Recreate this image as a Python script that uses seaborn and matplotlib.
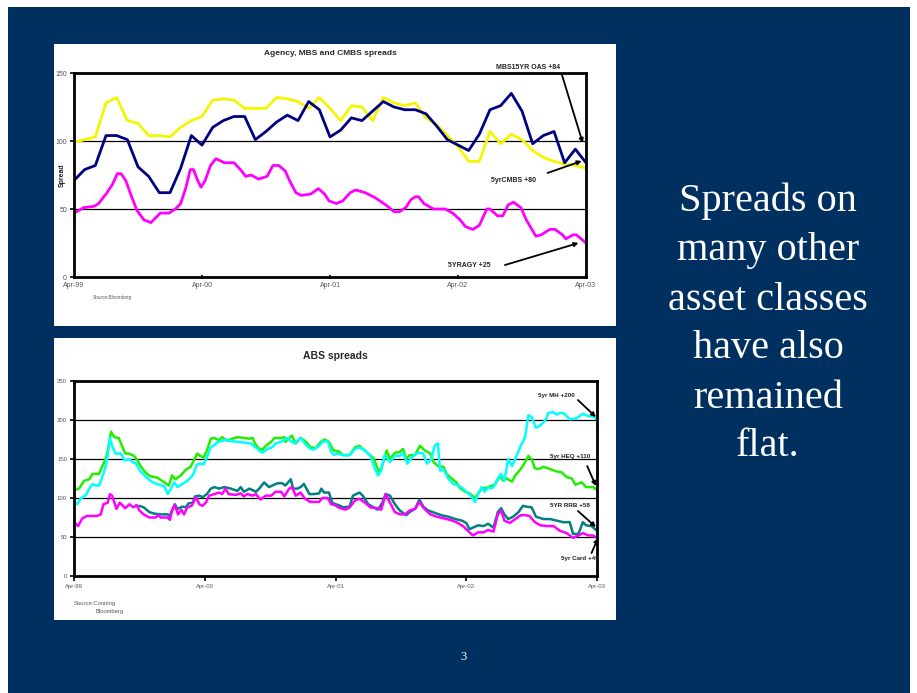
import matplotlib
matplotlib.use("Agg")
import matplotlib.pyplot as plt
from matplotlib.patches import Rectangle
import seaborn as sns
import pandas as pd

# ---------------- data ----------------
tick_months = [0, 12, 24, 36, 48]
tick_labels = ["Apr-99", "Apr-00", "Apr-01", "Apr-02", "Apr-03"]

# Agency / MBS / CMBS (monthly, months since Apr-99)
mbs_months = list(range(49))
mbs15yr_oas = [71, 79, 82, 104, 104, 101, 81, 74, 62, 62, 80, 104, 97, 110, 115, 118, 118,
               101, 107, 114, 119, 115, 129, 123, 103, 108, 117, 115, 122, 129, 125, 123, 123,
               120, 111, 101, 97, 93, 105, 123, 126, 135, 122, 98, 104, 107, 84, 94, 84]
cmbs_5yr = [99, 101, 103, 128, 132, 115, 113, 104, 104, 103, 110, 115, 118, 130, 131, 130, 124,
            124, 124, 132, 131, 129, 124, 132, 124, 115, 126, 125, 115, 132, 128, 126, 128,
            117, 112, 104, 96, 85, 85, 107, 98, 105, 101, 93, 88, 85, 83, 82, 80]

agy_months = [0, 0.9, 1.9, 2.3, 3.0, 3.6, 4.06, 4.4, 4.85, 5.4, 5.9, 6.56, 7.2, 8.1, 8.9, 9.5,
              10, 10.5, 10.9, 11.2, 11.6, 11.9, 12.3, 12.8, 13.3, 14.1, 15, 15.6, 16.1, 16.6,
              17.3, 18.1, 18.65, 19.2, 19.8, 20.2, 20.8, 21.3, 22.2, 22.9, 23.5, 23.9, 24.6,
              25.2, 25.9, 26.4, 27.3, 28.3, 29.4, 30, 30.5, 31.1, 31.6, 32, 32.3, 32.8, 33.7,
              34.5, 34.8, 35.5, 36.2, 36.7, 37.4, 38, 38.7, 39, 39.7, 40.2, 40.7, 41.2, 41.9,
              42.4, 43.3, 43.8, 44.6, 45.1, 45.8, 46.1, 46.8, 47.1, 48]
agy_5yr = [47, 51, 52, 54, 61, 68, 76, 76, 71, 59, 49, 42, 40, 47, 47, 50,
           54, 66, 79, 79, 71, 66, 71, 82, 87, 84, 84, 79, 74, 75,
           72, 74, 82, 82, 78, 71, 62, 60, 61, 65, 61, 56, 54,
           56, 62, 64, 62, 58, 52, 48, 48, 51, 57, 59, 59, 54, 50,
           50, 50, 47, 42, 37, 35, 38, 50, 50, 45, 45, 53, 55, 51,
           42, 30, 31, 35, 35, 31, 28, 31, 31, 25]

# ABS spreads
heq_months = [0, 0.46, 0.92, 1.4, 1.7, 2.3, 2.6, 2.9, 3.1, 3.4, 3.7, 4.1, 4.4, 4.7, 5.05, 5.5,
              5.8, 6.1, 6.6, 7.0, 7.65, 8.3, 8.7, 9.0, 9.3, 9.8, 10.25, 10.7, 11, 11.3, 11.6,
              11.9, 12.2, 12.55, 12.9, 13.3, 13.6, 14.1, 14.5, 15, 15.6, 16.1, 16.4, 16.6, 17,
              17.3, 17.6, 18.1, 18.4, 19, 19.3, 19.4, 19.7, 20, 20.35, 20.8, 21.3, 21.7, 22.2,
              22.65, 23, 23.4, 23.8, 24.25, 24.7, 25.3, 25.8, 26.2, 26.5, 27, 27.5, 27.8, 28,
              28.2, 28.7, 29, 29.45, 29.9, 30.2, 30.5, 30.8, 31.3, 31.75, 32.2, 32.7, 33, 33.4,
              33.9, 34.2, 34.65, 35.1, 35.4, 35.9, 36.3, 36.8, 37.4, 38, 38.6, 39.1, 39.4,
              39.7, 40.2, 40.5, 41, 41.4, 41.7, 42, 42.3, 42.6, 43.1, 43.7, 44.3, 44.75, 45.2,
              45.7, 46, 46.6, 47.0, 47.65, 48]
heq_5yr = [110, 112, 122, 124, 131, 131, 141, 150, 161, 185, 178, 177, 167, 157, 157, 154,
           149, 141, 132, 128, 126, 120, 116, 129, 124, 129, 136, 140, 148, 157, 154,
           152, 161, 176, 177, 174, 178, 173, 176, 178, 177, 176, 177, 170, 163,
           162, 167, 172, 177, 177, 178, 172, 176, 180, 170, 177, 172, 165, 164,
           172, 175, 172, 161, 160, 155, 155, 165, 167, 163, 157, 151, 140, 133,
           138, 161, 150, 158, 159, 163, 150, 155, 155, 167, 161, 157, 146, 141,
           140, 131, 125, 120, 113, 108, 106, 100, 112, 114, 117, 128, 122,
           125, 121, 129, 137, 146, 154, 150, 138, 137, 140, 137, 134, 133, 127,
           125, 117, 120, 114, 114, 110]

mh_months = [0, 0.3, 0.6, 1.1, 1.4, 1.7, 2, 2.3, 2.6, 2.9, 3.1, 3.3, 3.5, 3.8, 4.3, 4.65, 5.05,
             5.4, 5.7, 6.1, 6.6, 7.2, 7.8, 8.3, 8.6, 8.9, 9.2, 9.5, 9.95, 10.4, 10.9, 11.3,
             11.6, 11.9, 12.2, 12.55, 12.9, 13.2, 13.6, 13.9, 14.4, 15, 15.6, 16.2, 16.5, 17,
             17.3, 17.75, 18.2, 18.5, 19, 19.3, 19.6, 19.9, 20.2, 20.5, 20.8, 21.3, 21.7, 22,
             22.5, 22.8, 23.3, 23.6, 23.9, 24.1, 24.7, 25.3, 25.8, 26.2, 26.7, 27.2, 27.6,
             27.9, 28.2, 28.5, 29, 29.45, 29.9, 30.2, 30.6, 31, 31.4, 31.75, 32.05, 32.4, 32.8,
             33.1, 33.4, 33.6, 33.9, 34.35, 34.8, 35.3, 35.7, 36.2, 36.5, 36.8, 37.1, 37.4,
             37.7, 38, 38.3, 38.6, 38.9, 39.2, 39.5, 39.85, 40.2, 40.5, 41, 41.4, 41.7, 42,
             42.4, 42.8, 43.1, 43.4, 43.5, 44, 44.3, 44.6, 44.9, 45.5, 46.1, 46.7, 47.2, 47.8,
             48]
mh_5yr = [94, 92, 99, 104, 112, 118, 116, 116, 127, 140, 155, 177, 167, 157, 157, 148, 150,
          146, 144, 134, 127, 120, 117, 115, 105, 112, 120, 114, 118, 122, 129, 143,
          144, 143, 152, 165, 168, 172, 173, 175, 173, 172, 171, 170, 167, 161,
          158, 163, 165, 170, 172, 174, 177, 173, 170, 173, 177, 168, 163, 162,
          167, 172, 173, 159, 155, 157, 155, 155, 163, 165, 161, 154, 138,
          129, 135, 155, 146, 154, 154, 158, 144, 152, 157, 158, 157, 144, 150,
          167, 170, 135, 137, 125, 118, 116, 112, 106, 101, 95, 105, 114,
          108, 114, 112, 116, 125, 131, 122, 150, 141, 150, 167, 178, 206, 204,
          190, 193, 197, 203, 209, 210, 207, 209, 209, 201, 202, 208, 205, 204,
          200]

rrb_months = [6.0, 6.4, 6.9, 7.35, 7.96, 8.6, 8.8, 9.0, 9.25, 9.5, 9.95, 10.25, 10.5, 10.9,
              11.1, 11.5, 11.8, 12.2, 12.55, 12.9, 13.3, 13.8, 14.4, 15, 15.3, 15.6, 16.1,
              16.7, 17, 17.45, 17.9, 18.2, 18.7, 19.1, 19.4, 19.9, 20.1, 20.5, 20.8, 21.1,
              21.6, 22.0, 22.5, 22.7, 22.95, 23.4, 23.7, 24.0, 24.25, 24.7, 25.3, 25.6, 26.2,
              26.5, 27, 27.5, 27.9, 28.3, 28.6, 29, 29.45, 29.9, 30.5, 30.8, 31.3, 31.7,
              32.05, 32.5, 33.1, 33.7, 34.35, 35, 35.6, 36.0, 36.3, 36.6, 37.1, 37.6, 38,
              38.5, 38.9, 39.2, 39.5, 39.85, 40.3, 40.8, 41.2, 41.5, 42, 42.4, 43.1, 43.7,
              44.3, 44.9, 45.5, 45.8, 46.3, 46.7, 47, 47.5, 48]
rrb_5yr = [90, 88, 82, 80, 79, 79, 77, 84, 92, 86, 89, 88, 93, 94,
           102, 103, 101, 105, 112, 114, 112, 114, 112, 109, 114, 108, 112,
           108, 112, 120, 114, 116, 119, 119, 116, 124, 112, 112, 114, 118,
           105, 105, 106, 112, 107, 107, 94, 92, 91, 88, 89, 103, 107,
           103, 92, 88, 85, 94, 105, 103, 92, 84, 78, 82, 86, 98,
           89, 84, 81, 78, 76, 73, 71, 68, 60, 62, 65, 64, 67,
           62, 82, 87, 79, 73, 76, 82, 90, 89, 88, 76, 73, 73,
           71, 69, 69, 54, 54, 69, 65, 64, 58]

card_months = [0, 0.37, 0.77, 1.2, 2.1, 2.45, 2.7, 3.1, 3.3, 3.5, 3.9, 4.2, 4.7, 5.1, 5.45,
               5.75, 6.0, 6.4, 6.9, 7.5, 7.7, 7.96, 8.6, 8.8, 9.0, 9.25, 9.55, 9.85, 10.1,
               10.4, 10.8, 11.2, 11.5, 11.8, 12.1, 12.4, 12.9, 13.3, 13.6, 13.9, 14.2, 14.85,
               15.3, 15.6, 15.9, 16.4, 16.7, 17.1, 17.6, 18.1, 18.5, 19, 19.3, 19.75, 20,
               20.35, 20.8, 21.2, 21.7, 22.5, 22.8, 23.3, 23.6, 23.95, 24.25, 24.9, 25.3,
               25.8, 26.2, 26.7, 27.2, 27.8, 28.2, 28.6, 29, 29.45, 29.9, 30.4, 30.8, 31.3,
               31.7, 32.1, 32.7, 33.3, 33.9, 34.5, 35.1, 35.7, 36.3, 36.6, 37.1, 37.6, 38,
               38.5, 38.9, 39.2, 39.5, 40, 40.5, 41, 41.4, 41.8, 42.3, 42.8, 43.4, 44, 44.6,
               45.2, 45.8, 46.3, 46.7, 47.2, 47.6, 48]
card_5yr = [69, 64, 74, 77, 77, 79, 92, 94, 105, 103, 86, 94, 87, 92, 88,
            91, 84, 79, 75, 75, 78, 75, 75, 72, 84, 91, 79, 85, 79,
            88, 90, 101, 92, 90, 94, 103, 105, 107, 105, 112, 105, 104,
            106, 102, 105, 103, 105, 98, 103, 103, 108, 108, 102, 112, 114,
            103, 107, 99, 95, 95, 100, 100, 92, 91, 88, 85, 88,
            97, 99, 94, 88, 87, 85, 105, 94, 82, 79, 79, 84, 86,
            95, 87, 79, 76, 74, 72, 69, 64, 56, 52, 56, 56, 59,
            57, 79, 84, 71, 68, 73, 78, 78, 77, 69, 65, 64, 64, 58,
            55, 49, 52, 55, 52, 52, 49]

# ---------------- layout ----------------
W, H = 917, 693
BG = "#00305f"
sns.set_theme(style="white")
plt.rcParams["font.family"] = ["Liberation Sans", "DejaVu Sans"]

fig = plt.figure(figsize=(W / 100, H / 100), dpi=100)
fig.patch.set_facecolor("white")


def px_rect(x0, y0, x1, y1, color, z):
    fig.patches.append(Rectangle((x0 / W, 1 - y1 / H), (x1 - x0) / W, (y1 - y0) / H,
                                 transform=fig.transFigure, facecolor=color,
                                 edgecolor="none", zorder=z))


def px_axes(x0, y0, x1, y1):
    ax = fig.add_axes([x0 / W, 1 - y1 / H, (x1 - x0) / W, (y1 - y0) / H])
    ax.set_zorder(2)
    return ax


px_rect(8, 7, 910, 693, BG, -3)
px_rect(54, 44, 616, 326, "white", -2)
px_rect(54, 338, 616, 620, "white", -2)

TICK_GREY = "#555555"


def style_axes(ax, ymax, ystep, grid_vals, tick_fs, xdir, ydir):
    ax.set_facecolor("none")
    ax.set_xlim(0, 48)
    ax.set_ylim(0, ymax)
    ax.set_xticks(tick_months)
    ax.set_xticklabels(tick_labels)
    ax.set_yticks(range(0, ymax + 1, ystep))
    for v in grid_vals:
        ax.axhline(v, color="black", lw=0.9, zorder=1)
    for s in ax.spines.values():
        s.set_visible(True)
        s.set_color("black")
        s.set_linewidth(2.0)
        s.set_zorder(5)
    ax.tick_params(axis="x", direction=xdir, length=3.5, width=1.2, color="black",
                   labelsize=tick_fs, labelcolor=TICK_GREY, pad=2, bottom=True)
    ax.tick_params(axis="y", direction=ydir, length=3, width=1.2, color="black",
                   labelsize=tick_fs, labelcolor=TICK_GREY, pad=2, left=True)
    ax.set_xlabel("")
    ax.set_ylabel("")


def note(ax, text, xy, xytext, arrow_from, fs):
    ax.annotate("", xy=xy, xytext=arrow_from, xycoords="data",
                arrowprops=dict(arrowstyle="-|>", color="black", lw=1.3,
                                mutation_scale=6, shrinkA=0, shrinkB=0),
                annotation_clip=False, zorder=6)
    ax.text(xytext[0], xytext[1], text, ha="center", va="center", fontsize=fs,
            fontweight="bold", color="#222222", clip_on=False, zorder=6)


# ---------------- top chart ----------------
ax1 = px_axes(74, 73, 586, 277)
agency = pd.DataFrame({"month": mbs_months, "MBS15YR OAS": mbs15yr_oas, "5yrCMBS": cmbs_5yr})
agy = pd.DataFrame({"month": agy_months, "5YRAGY": agy_5yr})
sns.lineplot(data=agy, x="month", y="5YRAGY", ax=ax1, color="#ff00ff", lw=2.0,
             estimator=None, sort=False, zorder=3)
sns.lineplot(data=agency, x="month", y="5yrCMBS", ax=ax1, color="#f5f500", lw=2.0,
             estimator=None, sort=False, zorder=3)
sns.lineplot(data=agency, x="month", y="MBS15YR OAS", ax=ax1, color="#000080", lw=2.0,
             estimator=None, sort=False, zorder=4)
style_axes(ax1, 150, 50, [50, 100], 5, "inout", "out")
fig.text(62 / W, 1 - 175 / H, "Spread", rotation=90, ha="center", va="center",
         fontsize=5, fontweight="bold", color="#222222", zorder=3)
ax1.set_title("Agency, MBS and CMBS spreads", fontsize=6, fontweight="bold", pad=13)
note(ax1, "MBS15YR OAS +84", (47.7, 98.5), (42.6, 153.7), (45.75, 148.5), 5)
note(ax1, "5yrCMBS +80", (47.6, 85.3), (41.2, 70.6), (44.4, 76.5), 5)
note(ax1, "5YRAGY +25", (47.3, 25), (37.1, 8.1), (40.4, 8.8), 5)
fig.text(93 / W, 1 - 297 / H, "Source:Bloomberg", fontsize=3.4, color=TICK_GREY,
         style="italic", va="center", zorder=3)

# ---------------- bottom chart ----------------
ax2 = px_axes(74, 381, 597, 576)
abs_lines = [
    (heq_months, heq_5yr, "#22ee00"),
    (mh_months, mh_5yr, "#00ffff"),
    (rrb_months, rrb_5yr, "#008080"),
    (card_months, card_5yr, "#ff00ff"),
]
for xs, ys, col in abs_lines:
    sns.lineplot(x=xs, y=ys, ax=ax2, color=col, lw=1.8, estimator=None, sort=False, zorder=3)
style_axes(ax2, 250, 50, [50, 100, 150, 200], 4.3, "out", "out")
ax2.set_title("ABS spreads", fontsize=7.5, fontweight="bold", pad=16)
note(ax2, "5yr MH +200", (47.9, 203.8), (44.3, 232), (46.25, 225.6), 4.5)
note(ax2, "5yr HEQ +110", (47.9, 115.4), (45.5, 153.8), (47.1, 141), 4.5)
note(ax2, "5YR RRB +58", (47.9, 62.8), (45.5, 91), (46.25, 83.3), 4.5)
note(ax2, "5yr Card +49", (48.1, 48.7), (46.4, 23), (47.5, 29.5), 4.5)
fig.text(74 / W, 1 - 603 / H, "Source:Conning", fontsize=4.2, color=TICK_GREY,
         va="center", zorder=3)
fig.text(95 / W, 1 - 611 / H, "Bloomberg", fontsize=4.2, color=TICK_GREY,
         va="center", zorder=3)

# ---------------- slide text ----------------
for line, yc in zip(["Spreads on", "many other", "asset classes", "have also", "remained", "flat."],
                    [201, 250, 300, 349, 398, 447]):
    fig.text(768 / W, 1 - yc / H, line, ha="center", va="center", color="white",
             fontsize=29, family=["Liberation Serif", "DejaVu Serif"], zorder=3)
fig.text(463 / W, 1 - 657 / H, "3", ha="center", va="center", color="white",
         fontsize=9, family=["Liberation Serif", "DejaVu Serif"], zorder=3)

fig.savefig("out.png", dpi=100)
